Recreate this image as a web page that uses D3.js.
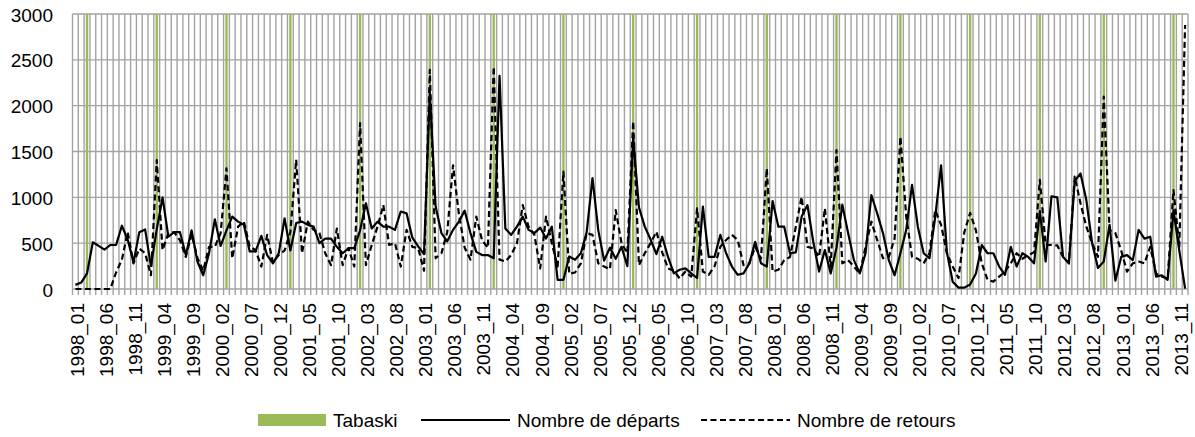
<!DOCTYPE html>
<html><head><meta charset="utf-8">
<script src="https://cdn.jsdelivr.net/npm/d3@7"></script>
<style>
html,body{margin:0;padding:0;background:#fff;}
svg{display:block;font-family:"Liberation Sans",Arial,sans-serif;}
</style></head>
<body><svg id="c" width="1195" height="437"></svg>
<script>
// ---- data ----
const years = d3.range(1998, 2014);
const months = ["01","02","03","04","05","06","07","08","09","10","11","12"];
const categories = years.flatMap(y => months.map(m => y + "_" + m));

const departs = [
  45, 70, 170, 510, 470, 430, 480, 480, 690, 540, 290, 620,
  650, 250, 650, 1000, 570, 620, 620, 370, 640, 300, 150, 390,
  760, 470, 640, 790, 735, 700, 410, 410, 580, 370, 280, 390,
  770, 420, 720, 735, 700, 680, 500, 550, 550, 460, 390, 445,
  445, 640, 935, 660, 735, 680, 680, 645, 845, 825, 560, 465,
  380, 2150, 900, 610, 520, 645, 735, 855, 610, 405, 370, 370,
  335, 2325, 660, 590, 680, 790, 645, 610, 670, 550, 680, 100,
  100, 355, 320, 390, 620, 1210, 640, 310, 450, 330, 460, 250,
  1650, 890, 680, 540, 380, 570, 350, 170, 210, 225, 170, 120,
  900, 350, 350, 590, 390, 245, 155, 170, 280, 515, 280, 245,
  960, 680, 680, 390, 400, 790, 915, 515, 190, 425, 170, 450,
  920, 610, 315, 170, 390, 1025, 825, 610, 315, 150, 390, 645,
  1135, 680, 390, 335, 790, 1350, 400, 80, 15, 15, 50, 170,
  480, 390, 390, 245, 155, 460, 245, 390, 350, 280, 850, 300,
  1010, 1000, 350, 280, 1180, 1260, 970, 500, 230, 300, 700, 90,
  350, 370, 315, 645, 550, 570, 135, 150, 100, 860, 420, 5
];
const retours = [
  0, 0, 0, 0, 0, 0, 0, 180, 320, 620, 280, 440,
  390, 150, 1405, 425, 610, 620, 530, 350, 600, 340, 200, 460,
  460, 610, 1315, 335, 680, 735, 460, 425, 245, 590, 290, 370,
  420, 620, 1410, 390, 735, 645, 610, 390, 260, 660, 260, 445,
  245, 1810, 260, 480, 680, 915, 480, 500, 245, 645, 460, 445,
  200, 2390, 335, 390, 620, 1350, 820, 450, 320, 790, 530, 450,
  2425, 320, 300, 370, 500, 915, 680, 590, 225, 790, 500, 245,
  1280, 165, 180, 280, 610, 590, 280, 245, 215, 860, 500, 390,
  1830, 260, 390, 500, 625, 400, 225, 200, 115, 190, 135, 880,
  190, 155, 245, 460, 535, 590, 535, 260, 280, 460, 330, 1315,
  190, 210, 315, 350, 680, 1005, 460, 445, 350, 880, 245, 1515,
  280, 315, 245, 170, 460, 735, 535, 335, 350, 550, 1660, 790,
  350, 330, 280, 390, 860, 700, 390, 245, 120, 620, 830, 640,
  280, 100, 80, 135, 190, 280, 390, 330, 370, 400, 1190, 480,
  480, 475, 350, 280, 1225, 935, 680, 500, 350, 2100, 645, 610,
  420, 190, 280, 300, 280, 460, 170, 135, 115, 1080, 460, 2880
];
const tabaskiMonths = ["1998_03","1999_03","2000_03","2001_02","2002_02","2003_02","2004_01",
  "2005_01","2006_01","2006_12","2007_12","2008_12","2009_11","2010_11","2011_11","2012_10","2013_10"];
const tabaskiValue = 3000;
const yTicks = [0, 500, 1000, 1500, 2000, 2500, 3000];
const xTickLabels = categories.filter((d, i) => i % 5 === 0);
const legendLabels = ["Tabaski", "Nombre de départs", "Nombre de retours"];

// ---- layout ----
const L = 72.5, R = 1188, T = 14, B = 289;
const svg = d3.select("#c");
const x = d3.scaleBand().domain(categories).range([L, R]).padding(0);
const y = d3.scaleLinear().domain([0, 3000]).range([B, T]);
const bw = x.bandwidth();
const cx = d => x(d) + bw / 2;
const grid = "#a3a3a3";

// vertical gridlines at category boundaries (extend below as tick marks)
const bounds = categories.map(c => x(c)).concat([R]);
svg.append("g").selectAll("line").data(bounds).join("line")
  .attr("x1", d => d).attr("x2", d => d)
  .attr("y1", T).attr("y2", B + 6)
  .attr("stroke", grid).attr("stroke-width", 1.4);

// horizontal gridlines
svg.append("g").selectAll("line").data(yTicks).join("line")
  .attr("x1", L).attr("x2", R)
  .attr("y1", d => y(d)).attr("y2", d => y(d))
  .attr("stroke", grid).attr("stroke-width", 1.4);

// Tabaski bars
const barW = 2.4;
svg.append("g").selectAll("rect").data(tabaskiMonths).join("rect")
  .attr("x", d => cx(d) - barW / 2).attr("width", barW)
  .attr("y", y(tabaskiValue)).attr("height", y(0) - y(tabaskiValue))
  .attr("fill", "#9bbb59");

// lines
const line = d3.line().x((d, i) => cx(categories[i])).y(d => y(d));
svg.append("path").datum(retours).attr("d", line)
  .attr("fill", "none").attr("stroke", "#000").attr("stroke-width", 2.2)
  .attr("stroke-dasharray", "6,3.5").attr("stroke-linejoin", "round");
svg.append("path").datum(departs).attr("d", line)
  .attr("fill", "none").attr("stroke", "#000").attr("stroke-width", 2.2)
  .attr("stroke-linejoin", "round");

// y axis labels
const fs = 19;
svg.append("g").selectAll("text").data(yTicks).join("text")
  .attr("x", 53).attr("y", d => y(d) + 1).attr("dy", "0.35em")
  .attr("text-anchor", "end").attr("font-size", fs).attr("fill", "#000")
  .text(d => d);

// x axis labels
svg.append("g").selectAll("text").data(xTickLabels).join("text")
  .attr("transform", d => `translate(${cx(d) + 1.5},303) rotate(-90)`)
  .attr("dy", "0.36em").attr("text-anchor", "end")
  .attr("font-size", fs).attr("fill", "#000")
  .text(d => d);

// legend
const ly = 420;
const lg = svg.append("g").attr("font-size", fs);
lg.append("rect").attr("x", 258).attr("y", ly - 6).attr("width", 68).attr("height", 12).attr("fill", "#9bbb59");
lg.append("text").attr("x", 333).attr("y", ly).attr("dy", "0.35em").text(legendLabels[0]);
lg.append("line").attr("x1", 421).attr("x2", 510).attr("y1", ly).attr("y2", ly)
  .attr("stroke", "#000").attr("stroke-width", 2.2);
lg.append("text").attr("x", 517).attr("y", ly).attr("dy", "0.35em").text(legendLabels[1]);
lg.append("line").attr("x1", 701).attr("x2", 790).attr("y1", ly).attr("y2", ly)
  .attr("stroke", "#000").attr("stroke-width", 2.2).attr("stroke-dasharray", "6,3.5");
lg.append("text").attr("x", 797).attr("y", ly).attr("dy", "0.35em").text(legendLabels[2]);
</script></body></html>
